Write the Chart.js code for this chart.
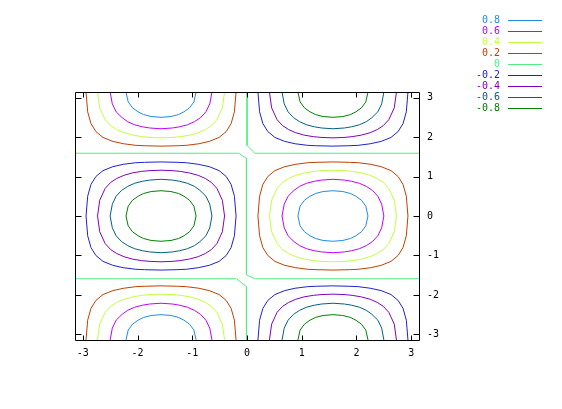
<!DOCTYPE html>
<html>
<head>
<meta charset="utf-8">
<script src="https://cdn.jsdelivr.net/npm/chart.js@4"></script>
<style>
  body { margin: 0; background: #fff; }
  canvas { display: block; }
</style>
</head>
<body>
<canvas id="myChart" width="562" height="409"></canvas>
<script>
// contour levels, legend order
const LEVELS = ['0.8', '0.6', '0.4', '0.2', '0', '-0.2', '-0.4', '-0.6', '-0.8'];
const COLORS = ['#1e8ce6', '#c000ff', '#c0ff40', '#c04000', '#50f080', '#2020d0', '#8000c0', '#00607f', '#008000'];
const X_TICKS = [-3, -2, -1, 0, 1, 2, 3];
const Y_TICKS = [-3, -2, -1, 0, 1, 2, 3];

// contour pieces, [x, y]
const C_P08 = [
  [[0.93,0],[0.97,0.25],[1.05,0.40],[1.15,0.50],[1.25,0.57],[1.39,0.62],[1.57,0.64],[1.75,0.62],[1.89,0.57],[1.99,0.50],[2.09,0.40],[2.17,0.25],[2.21,0],[2.17,-0.25],[2.09,-0.40],[1.99,-0.50],[1.89,-0.57],[1.75,-0.62],[1.57,-0.64],[1.39,-0.62],[1.25,-0.57],[1.15,-0.50],[1.05,-0.40],[0.97,-0.25],[0.93,0]],
  [[-2.21,3.14],[-2.17,2.89],[-2.09,2.74],[-1.99,2.64],[-1.89,2.57],[-1.75,2.52],[-1.57,2.50],[-1.39,2.52],[-1.25,2.57],[-1.15,2.64],[-1.05,2.74],[-0.97,2.89],[-0.93,3.14]],
  [[-2.21,-3.14],[-2.17,-2.89],[-2.09,-2.74],[-1.99,-2.64],[-1.89,-2.57],[-1.75,-2.52],[-1.57,-2.50],[-1.39,-2.52],[-1.25,-2.57],[-1.15,-2.64],[-1.05,-2.74],[-0.97,-2.89],[-0.93,-3.14]]
];
const C_P06 = [
  [[0.64,0],[0.68,0.30],[0.75,0.50],[0.86,0.65],[0.96,0.75],[1.09,0.83],[1.23,0.88],[1.36,0.91],[1.57,0.93],[1.78,0.91],[1.91,0.88],[2.05,0.83],[2.18,0.75],[2.29,0.65],[2.39,0.50],[2.46,0.30],[2.50,0],[2.46,-0.30],[2.39,-0.50],[2.29,-0.65],[2.18,-0.75],[2.05,-0.83],[1.91,-0.88],[1.78,-0.91],[1.57,-0.93],[1.36,-0.91],[1.23,-0.88],[1.09,-0.83],[0.96,-0.75],[0.86,-0.65],[0.75,-0.50],[0.68,-0.30],[0.64,0]],
  [[-2.50,3.14],[-2.46,2.84],[-2.39,2.64],[-2.28,2.49],[-2.18,2.39],[-2.05,2.31],[-1.91,2.26],[-1.78,2.23],[-1.57,2.21],[-1.36,2.23],[-1.23,2.26],[-1.09,2.31],[-0.96,2.39],[-0.85,2.49],[-0.75,2.64],[-0.68,2.84],[-0.64,3.14]],
  [[-2.50,-3.14],[-2.46,-2.84],[-2.39,-2.64],[-2.28,-2.49],[-2.18,-2.39],[-2.05,-2.31],[-1.91,-2.26],[-1.78,-2.23],[-1.57,-2.21],[-1.36,-2.23],[-1.23,-2.26],[-1.09,-2.31],[-0.96,-2.39],[-0.85,-2.49],[-0.75,-2.64],[-0.68,-2.84],[-0.64,-3.14]]
];
const C_P04 = [
  [[0.41,0],[0.45,0.40],[0.55,0.70],[0.65,0.85],[0.76,0.95],[0.89,1.03],[1.05,1.09],[1.22,1.13],[1.37,1.15],[1.57,1.16],[1.77,1.15],[1.93,1.13],[2.10,1.09],[2.25,1.03],[2.38,0.95],[2.49,0.85],[2.59,0.70],[2.69,0.40],[2.73,0],[2.69,-0.40],[2.59,-0.70],[2.49,-0.85],[2.38,-0.95],[2.25,-1.03],[2.10,-1.09],[1.93,-1.13],[1.77,-1.15],[1.57,-1.16],[1.37,-1.15],[1.22,-1.13],[1.05,-1.09],[0.89,-1.03],[0.76,-0.95],[0.65,-0.85],[0.55,-0.70],[0.45,-0.40],[0.41,0]],
  [[-2.73,3.14],[-2.69,2.74],[-2.59,2.44],[-2.49,2.29],[-2.38,2.19],[-2.25,2.11],[-2.09,2.05],[-1.92,2.01],[-1.77,1.99],[-1.57,1.98],[-1.37,1.99],[-1.21,2.01],[-1.04,2.05],[-0.89,2.11],[-0.76,2.19],[-0.65,2.29],[-0.55,2.44],[-0.45,2.74],[-0.41,3.14]],
  [[-2.73,-3.14],[-2.69,-2.74],[-2.59,-2.44],[-2.49,-2.29],[-2.38,-2.19],[-2.25,-2.11],[-2.09,-2.05],[-1.92,-2.01],[-1.77,-1.99],[-1.57,-1.98],[-1.37,-1.99],[-1.21,-2.01],[-1.04,-2.05],[-0.89,-2.11],[-0.76,-2.19],[-0.65,-2.29],[-0.55,-2.44],[-0.45,-2.74],[-0.41,-3.14]]
];
const C_P02 = [
  [[0.20,0],[0.23,0.50],[0.29,0.80],[0.38,1.00],[0.51,1.15],[0.69,1.25],[0.89,1.31],[1.11,1.35],[1.28,1.36],[1.57,1.37],[1.87,1.36],[2.03,1.35],[2.26,1.31],[2.45,1.25],[2.63,1.15],[2.76,1.00],[2.85,0.80],[2.91,0.50],[2.94,0],[2.91,-0.50],[2.85,-0.80],[2.76,-1.00],[2.63,-1.15],[2.45,-1.25],[2.26,-1.31],[2.03,-1.35],[1.87,-1.36],[1.57,-1.37],[1.28,-1.36],[1.11,-1.35],[0.89,-1.31],[0.69,-1.25],[0.51,-1.15],[0.38,-1.00],[0.29,-0.80],[0.23,-0.50],[0.20,0]],
  [[-2.94,3.14],[-2.91,2.64],[-2.85,2.34],[-2.76,2.14],[-2.63,1.99],[-2.45,1.89],[-2.25,1.83],[-2.03,1.79],[-1.86,1.78],[-1.57,1.77],[-1.27,1.78],[-1.11,1.79],[-0.88,1.83],[-0.69,1.89],[-0.51,1.99],[-0.38,2.14],[-0.29,2.34],[-0.23,2.64],[-0.20,3.14]],
  [[-2.94,-3.14],[-2.91,-2.64],[-2.85,-2.34],[-2.76,-2.14],[-2.63,-1.99],[-2.45,-1.89],[-2.25,-1.83],[-2.03,-1.79],[-1.86,-1.78],[-1.57,-1.77],[-1.27,-1.78],[-1.11,-1.79],[-0.88,-1.83],[-0.69,-1.89],[-0.51,-1.99],[-0.38,-2.14],[-0.29,-2.34],[-0.23,-2.64],[-0.20,-3.14]]
];
const C_Z0 = [
  [[-3.1416,1.59],[-0.15,1.59],[-0.01,1.46],[-0.01,-1.49],[0.14,-1.59],[3.1416,-1.59]],
  [[0,3.1416],[0,1.79],[0.14,1.59],[3.1416,1.59]],
  [[-3.1416,-1.59],[-0.19,-1.59],[-0.01,-1.79],[-0.01,-3.1416]]
];
const C_N02 = [
  [[-0.20,0],[-0.23,0.50],[-0.29,0.80],[-0.38,1.00],[-0.51,1.15],[-0.69,1.25],[-0.89,1.31],[-1.11,1.35],[-1.28,1.36],[-1.57,1.37],[-1.87,1.36],[-2.03,1.35],[-2.26,1.31],[-2.45,1.25],[-2.63,1.15],[-2.76,1.00],[-2.85,0.80],[-2.91,0.50],[-2.94,0],[-2.91,-0.50],[-2.85,-0.80],[-2.76,-1.00],[-2.63,-1.15],[-2.45,-1.25],[-2.26,-1.31],[-2.03,-1.35],[-1.87,-1.36],[-1.57,-1.37],[-1.28,-1.36],[-1.11,-1.35],[-0.89,-1.31],[-0.69,-1.25],[-0.51,-1.15],[-0.38,-1.00],[-0.29,-0.80],[-0.23,-0.50],[-0.20,0]],
  [[2.94,3.14],[2.91,2.64],[2.85,2.34],[2.76,2.14],[2.63,1.99],[2.45,1.89],[2.25,1.83],[2.03,1.79],[1.86,1.78],[1.57,1.77],[1.27,1.78],[1.11,1.79],[0.88,1.83],[0.69,1.89],[0.51,1.99],[0.38,2.14],[0.29,2.34],[0.23,2.64],[0.20,3.14]],
  [[2.94,-3.14],[2.91,-2.64],[2.85,-2.34],[2.76,-2.14],[2.63,-1.99],[2.45,-1.89],[2.25,-1.83],[2.03,-1.79],[1.86,-1.78],[1.57,-1.77],[1.27,-1.78],[1.11,-1.79],[0.88,-1.83],[0.69,-1.89],[0.51,-1.99],[0.38,-2.14],[0.29,-2.34],[0.23,-2.64],[0.20,-3.14]]
];
const C_N04 = [
  [[-0.41,0],[-0.45,0.40],[-0.55,0.70],[-0.65,0.85],[-0.76,0.95],[-0.89,1.03],[-1.05,1.09],[-1.22,1.13],[-1.37,1.15],[-1.57,1.16],[-1.77,1.15],[-1.93,1.13],[-2.10,1.09],[-2.25,1.03],[-2.38,0.95],[-2.49,0.85],[-2.59,0.70],[-2.69,0.40],[-2.73,0],[-2.69,-0.40],[-2.59,-0.70],[-2.49,-0.85],[-2.38,-0.95],[-2.25,-1.03],[-2.10,-1.09],[-1.93,-1.13],[-1.77,-1.15],[-1.57,-1.16],[-1.37,-1.15],[-1.22,-1.13],[-1.05,-1.09],[-0.89,-1.03],[-0.76,-0.95],[-0.65,-0.85],[-0.55,-0.70],[-0.45,-0.40],[-0.41,0]],
  [[2.73,3.14],[2.69,2.74],[2.59,2.44],[2.49,2.29],[2.38,2.19],[2.25,2.11],[2.09,2.05],[1.92,2.01],[1.77,1.99],[1.57,1.98],[1.37,1.99],[1.21,2.01],[1.04,2.05],[0.89,2.11],[0.76,2.19],[0.65,2.29],[0.55,2.44],[0.45,2.74],[0.41,3.14]],
  [[2.73,-3.14],[2.69,-2.74],[2.59,-2.44],[2.49,-2.29],[2.38,-2.19],[2.25,-2.11],[2.09,-2.05],[1.92,-2.01],[1.77,-1.99],[1.57,-1.98],[1.37,-1.99],[1.21,-2.01],[1.04,-2.05],[0.89,-2.11],[0.76,-2.19],[0.65,-2.29],[0.55,-2.44],[0.45,-2.74],[0.41,-3.14]]
];
const C_N06 = [
  [[-0.64,0],[-0.68,0.30],[-0.75,0.50],[-0.86,0.65],[-0.96,0.75],[-1.09,0.83],[-1.23,0.88],[-1.36,0.91],[-1.57,0.93],[-1.78,0.91],[-1.91,0.88],[-2.05,0.83],[-2.18,0.75],[-2.29,0.65],[-2.39,0.50],[-2.46,0.30],[-2.50,0],[-2.46,-0.30],[-2.39,-0.50],[-2.29,-0.65],[-2.18,-0.75],[-2.05,-0.83],[-1.91,-0.88],[-1.78,-0.91],[-1.57,-0.93],[-1.36,-0.91],[-1.23,-0.88],[-1.09,-0.83],[-0.96,-0.75],[-0.86,-0.65],[-0.75,-0.50],[-0.68,-0.30],[-0.64,0]],
  [[2.50,3.14],[2.46,2.84],[2.39,2.64],[2.28,2.49],[2.18,2.39],[2.05,2.31],[1.91,2.26],[1.78,2.23],[1.57,2.21],[1.36,2.23],[1.23,2.26],[1.09,2.31],[0.96,2.39],[0.85,2.49],[0.75,2.64],[0.68,2.84],[0.64,3.14]],
  [[2.50,-3.14],[2.46,-2.84],[2.39,-2.64],[2.28,-2.49],[2.18,-2.39],[2.05,-2.31],[1.91,-2.26],[1.78,-2.23],[1.57,-2.21],[1.36,-2.23],[1.23,-2.26],[1.09,-2.31],[0.96,-2.39],[0.85,-2.49],[0.75,-2.64],[0.68,-2.84],[0.64,-3.14]]
];
const C_N08 = [
  [[-0.93,0],[-0.97,0.25],[-1.05,0.40],[-1.15,0.50],[-1.25,0.57],[-1.39,0.62],[-1.57,0.64],[-1.75,0.62],[-1.89,0.57],[-1.99,0.50],[-2.09,0.40],[-2.17,0.25],[-2.21,0],[-2.17,-0.25],[-2.09,-0.40],[-1.99,-0.50],[-1.89,-0.57],[-1.75,-0.62],[-1.57,-0.64],[-1.39,-0.62],[-1.25,-0.57],[-1.15,-0.50],[-1.05,-0.40],[-0.97,-0.25],[-0.93,0]],
  [[2.21,3.14],[2.17,2.89],[2.09,2.74],[1.99,2.64],[1.89,2.57],[1.75,2.52],[1.57,2.50],[1.39,2.52],[1.25,2.57],[1.15,2.64],[1.05,2.74],[0.97,2.89],[0.93,3.14]],
  [[2.21,-3.14],[2.17,-2.89],[2.09,-2.74],[1.99,-2.64],[1.89,-2.57],[1.75,-2.52],[1.57,-2.50],[1.39,-2.52],[1.25,-2.57],[1.15,-2.64],[1.05,-2.74],[0.97,-2.89],[0.93,-3.14]]
];
const CONTOURS = [C_P08, C_P06, C_P04, C_P02, C_Z0, C_N02, C_N04, C_N06, C_N08];

const FONT = '10px "DejaVu Sans Mono"';

var datasets = [];
CONTOURS.forEach(function (pieces, i) {
  pieces.forEach(function (pts) {
    datasets.push({
      label: LEVELS[i],
      data: pts.map(function (p) { return { x: p[0], y: p[1] }; }),
      showLine: true,
      borderColor: COLORS[i],
      borderWidth: 1,
      pointRadius: 0,
      tension: 0,
      fill: false
    });
  });
});

// border box + inward ticks on all four sides
const framePlugin = {
  id: 'frame',
  afterDatasetsDraw(chart) {
    const ctx = chart.ctx;
    const a = chart.chartArea;
    const sx = chart.scales.x, sy = chart.scales.y;
    const L = Math.round(a.left) + 0.5, R = Math.round(a.right) + 0.5;
    const T = Math.round(a.top) + 0.5, B = Math.round(a.bottom) + 0.5;
    ctx.save();
    ctx.strokeStyle = '#000';
    ctx.lineWidth = 1;
    ctx.beginPath();
    ctx.rect(L, T, R - L, B - T);
    X_TICKS.forEach(function (v) {
      const px = Math.round(sx.getPixelForValue(v)) + 0.5;
      ctx.moveTo(px, B); ctx.lineTo(px, B - 5);
      ctx.moveTo(px, T); ctx.lineTo(px, T + 5);
    });
    Y_TICKS.forEach(function (v) {
      const py = Math.round(sy.getPixelForValue(v)) + 0.5;
      ctx.moveTo(L, py); ctx.lineTo(L + 6, py);
      ctx.moveTo(R, py); ctx.lineTo(R - 6, py);
    });
    ctx.stroke();
    ctx.restore();
  }
};

// gnuplot style key: coloured label then sample line
const keyPlugin = {
  id: 'key',
  afterDraw(chart) {
    const ctx = chart.ctx;
    ctx.save();
    ctx.font = FONT;
    ctx.textAlign = 'right';
    ctx.textBaseline = 'middle';
    ctx.lineWidth = 1;
    LEVELS.forEach(function (lab, i) {
      const y = Math.round(20 + i * 11.05);
      ctx.fillStyle = COLORS[i];
      ctx.fillText(lab, 500, y);
      ctx.strokeStyle = COLORS[i];
      ctx.beginPath();
      ctx.moveTo(508, y + 0.5);
      ctx.lineTo(542, y + 0.5);
      ctx.stroke();
    });
    ctx.restore();
  }
};

var context = document.getElementById('myChart').getContext('2d');
const myChart = new Chart(context, {
  type: 'scatter',
  data: { datasets: datasets },
  options: {
    responsive: false,
    animation: false,
    layout: { padding: { left: 75, top: 92, right: 0, bottom: 0 } },
    plugins: {
      legend: { display: false },
      tooltip: { enabled: false }
    },
    scales: {
      x: {
        type: 'linear',
        min: -Math.PI,
        max: Math.PI,
        afterBuildTicks: function (s) { s.ticks = X_TICKS.map(function (v) { return { value: v }; }); },
        afterFit: function (s) { s.height = 69; },
        grid: { display: false, drawTicks: false },
        border: { display: false },
        ticks: { font: { family: 'DejaVu Sans Mono', size: 10 }, color: '#000', padding: 7, maxRotation: 0 }
      },
      y: {
        type: 'linear',
        position: 'right',
        min: -Math.PI,
        max: Math.PI,
        afterBuildTicks: function (s) { s.ticks = Y_TICKS.map(function (v) { return { value: v }; }); },
        afterFit: function (s) { s.width = 143; },
        grid: { display: false, drawTicks: false },
        border: { display: false },
        ticks: { font: { family: 'DejaVu Sans Mono', size: 10 }, color: '#000', padding: 8 }
      }
    }
  },
  plugins: [framePlugin, keyPlugin]
});
</script>
</body>
</html>
